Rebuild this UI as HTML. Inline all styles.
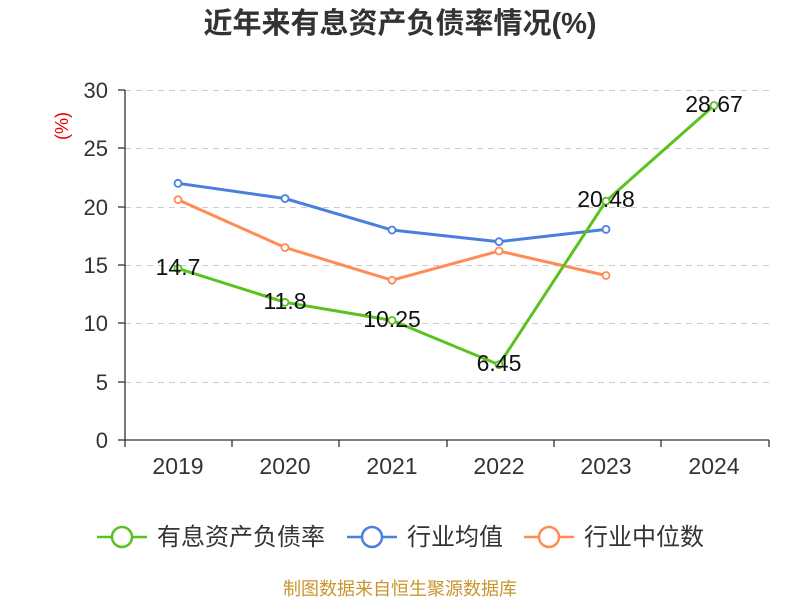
<!DOCTYPE html>
<html><head><meta charset="utf-8"><style>body{margin:0;background:#fff}</style></head><body>
<svg width="800" height="600" xmlns="http://www.w3.org/2000/svg" font-family="Liberation Sans, Noto Sans CJK SC, sans-serif">
<text x="400" y="33" text-anchor="middle" font-size="29" font-weight="bold" fill="#333">近年来有息资产负债率情况(%)</text>
<text x="68" y="126" transform="rotate(-90 68 126)" text-anchor="middle" font-size="18" fill="#e00">(%)</text>
<g stroke="#ccc" stroke-dasharray="6,5" stroke-width="1">
<line x1="125" x2="769" y1="90.5" y2="90.5"/><line x1="125" x2="769" y1="148.5" y2="148.5"/><line x1="125" x2="769" y1="207.5" y2="207.5"/><line x1="125" x2="769" y1="265.5" y2="265.5"/><line x1="125" x2="769" y1="323.5" y2="323.5"/><line x1="125" x2="769" y1="382.5" y2="382.5"/>
</g>
<g stroke="#333" stroke-width="1.3">
<line x1="125" x2="125" y1="90" y2="440"/><line x1="125" x2="769" y1="440" y2="440"/>
<line x1="118" x2="125" y1="90" y2="90"/><line x1="118" x2="125" y1="148" y2="148"/><line x1="118" x2="125" y1="207" y2="207"/><line x1="118" x2="125" y1="265" y2="265"/><line x1="118" x2="125" y1="323" y2="323"/><line x1="118" x2="125" y1="382" y2="382"/><line x1="118" x2="125" y1="440" y2="440"/>
<line x1="125" x2="125" y1="440" y2="447"/><line x1="232" x2="232" y1="440" y2="447"/><line x1="339" x2="339" y1="440" y2="447"/><line x1="447" x2="447" y1="440" y2="447"/><line x1="554" x2="554" y1="440" y2="447"/><line x1="661" x2="661" y1="440" y2="447"/><line x1="769" x2="769" y1="440" y2="447"/>
</g>
<g font-size="22" fill="#333" text-anchor="end">
<text x="108" y="98">30</text><text x="108" y="156">25</text><text x="108" y="215">20</text><text x="108" y="273">15</text><text x="108" y="331">10</text><text x="108" y="390">5</text><text x="108" y="448">0</text>
</g>
<g font-size="23" fill="#333" text-anchor="middle">
<text x="178" y="474">2019</text><text x="285" y="474">2020</text><text x="392" y="474">2021</text><text x="499" y="474">2022</text><text x="606" y="474">2023</text><text x="714" y="474">2024</text>
</g>
<g fill="#fff" stroke-width="1.8">
<polyline fill="none" stroke="#4a7fe0" stroke-width="3" points="178,183.3 285,198.5 392,230 499,241.7 606,229.4"/>
<g stroke="#4a7fe0"><circle cx="178" cy="183.3" r="3.5"/><circle cx="285" cy="198.5" r="3.5"/><circle cx="392" cy="230" r="3.5"/><circle cx="499" cy="241.7" r="3.5"/><circle cx="606" cy="229.4" r="3.5"/></g>
<polyline fill="none" stroke="#ff8c55" stroke-width="3" points="178,199.7 285,247.5 392,280.2 499,251 606,275.5"/>
<g stroke="#ff8c55"><circle cx="178" cy="199.7" r="3.5"/><circle cx="285" cy="247.5" r="3.5"/><circle cx="392" cy="280.2" r="3.5"/><circle cx="499" cy="251" r="3.5"/><circle cx="606" cy="275.5" r="3.5"/></g>
<polyline fill="none" stroke="#5ac21e" stroke-width="3" points="178,268.5 285,302.3 392,320.4 499,364.7 606,201.1 714,105.5"/>
<g stroke="#5ac21e"><circle cx="178" cy="268.5" r="3.5"/><circle cx="285" cy="302.3" r="3.5"/><circle cx="392" cy="320.4" r="3.5"/><circle cx="499" cy="364.7" r="3.5"/><circle cx="606" cy="201.1" r="3.5"/><circle cx="714" cy="105.5" r="3.5"/></g>
</g>
<g font-size="23" fill="#111" text-anchor="middle">
<text x="178" y="275">14.7</text><text x="285" y="309">11.8</text><text x="392" y="327">10.25</text><text x="499" y="371">6.45</text><text x="606" y="207">20.48</text><text x="714" y="112">28.67</text>
</g>
<g stroke-width="2.5" fill="#fff">
<line x1="97" x2="147" y1="537" y2="537" stroke="#5ac21e"/><circle cx="122" cy="537" r="10" stroke="#5ac21e"/>
<line x1="347" x2="397" y1="537" y2="537" stroke="#4a7fe0"/><circle cx="372" cy="537" r="10" stroke="#4a7fe0"/>
<line x1="524" x2="574" y1="537" y2="537" stroke="#ff8c55"/><circle cx="549" cy="537" r="10" stroke="#ff8c55"/>
</g>
<g font-size="24" fill="#333">
<text x="157" y="545">有息资产负债率</text><text x="407" y="545">行业均值</text><text x="584" y="545">行业中位数</text>
</g>
<text x="400" y="595" text-anchor="middle" font-size="18" fill="#c8962c">制图数据来自恒生聚源数据库</text>
</svg>
</body></html>
